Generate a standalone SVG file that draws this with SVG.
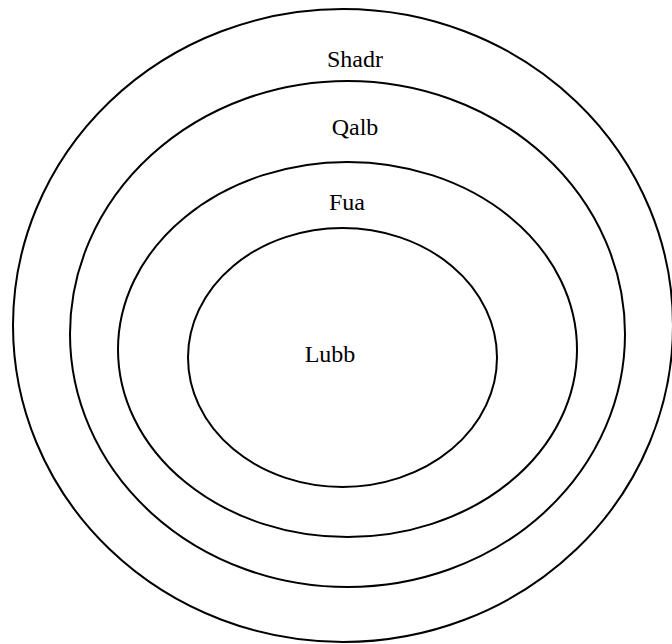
<svg xmlns="http://www.w3.org/2000/svg" width="672" height="644" viewBox="0 0 672 644">
<style>
.ring{fill:none;stroke:#000;stroke-width:2}
.lbl{font-family:"Liberation Serif","Times New Roman",serif;font-size:24px;fill:#000;text-anchor:middle}
</style>
<rect width="672" height="644" fill="#fff"/>
<g id="shadr"><ellipse class="ring" cx="343" cy="325.5" rx="330" ry="316.5"/><text class="lbl" x="355" y="67">Shadr</text></g>
<g id="qalb"><ellipse class="ring" cx="347.5" cy="334" rx="277.5" ry="253"/><text class="lbl" x="355" y="135">Qalb</text></g>
<g id="fua"><ellipse class="ring" cx="347.5" cy="349.5" rx="229.5" ry="187.5"/><text class="lbl" x="347" y="210">Fua</text></g>
<g id="lubb"><ellipse class="ring" cx="342.5" cy="357.5" rx="154.5" ry="129.5"/><text class="lbl" x="330" y="362">Lubb</text></g>
<g id="connectors"></g>
</svg>
